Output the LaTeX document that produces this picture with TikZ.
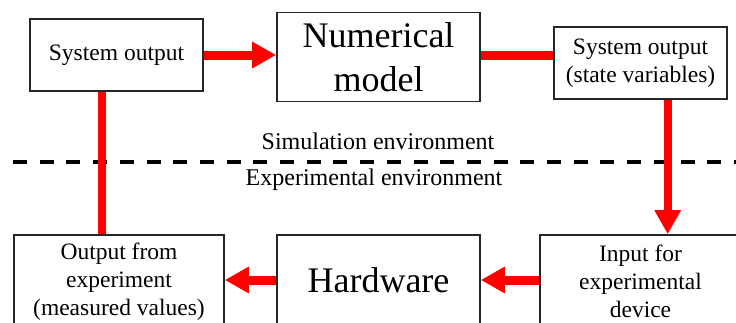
\documentclass[tikz,border=0pt]{standalone}
\usepackage{fontspec}
\setmainfont{Liberation Serif}
\usetikzlibrary{arrows.meta,calc}
\begin{document}
\begin{tikzpicture}[x=1pt,y=-1pt,
  box/.style={draw=black!85,line width=1.6pt,fill=white,inner sep=0pt,align=center,
    font=\fontsize{23.5}{28}\selectfont},
  bigbox/.style={box,font=\fontsize{36}{44}\selectfont},
  flow/.style={draw=red,line width=9pt},
  flowv/.style={draw=red,line width=8pt},
  tip/.style={-{Triangle[length=24pt,width=25pt]}},
  envtext/.style={font=\fontsize{24}{28}\selectfont,inner sep=0pt},
  divider/.style={draw=black,line width=4.5pt,dash pattern=on 14pt off 12.7pt}]
\useasboundingbox (0,0) rectangle (736,322);
\clip (0,0) rectangle (736,322);

\node[box,minimum width=173pt,minimum height=72pt] (sys1) at (116.5,55) {System output};
\node[bigbox,minimum width=203pt,minimum height=89pt] (num) at (378.5,57) {Numerical\\model};
\node[box,minimum width=173pt,minimum height=72pt] (sys2) at (640.5,63) {System output\\(state variables)};

\node[box,minimum width=210pt,minimum height=93pt] (out) at (119,281.5) {Output from\\experiment\\(measured values)};
\node[bigbox,minimum width=203pt,minimum height=90pt] (hw) at (378.5,280) {Hardware};
\node[box,minimum width=201pt,minimum height=93pt] (inp) at (640.5,281.5) {Input for\\experimental\\device};

\coordinate (dl) at (13,162);
\coordinate (dr) at (740,162);
\draw[divider] (dl) -- (dr);
\node[envtext] (sim) at (378,141) {Simulation environment};
\node[envtext] (exp) at (374,180) {Experimental environment};

\draw[flow,tip] (sys1.east) -- (sys1.east -| num.west);
\draw[flow] ([yshift=2pt]num.east) -- ([yshift=2pt]num.east -| sys2.west);
\coordinate (p1) at ($(sys1.south west)+(73,0)$);
\draw[flowv] (p1) -- (p1 |- out.north);
\coordinate (p2) at ($(sys2.south west)+(114.5,0)$);
\draw[flowv,tip] (p2) -- (p2 |- inp.north);
\draw[flow,tip] (hw.east -| inp.west) -- (hw.east);
\draw[flow,tip] (hw.west) -- (hw.west -| out.east);
\end{tikzpicture}
\end{document}
